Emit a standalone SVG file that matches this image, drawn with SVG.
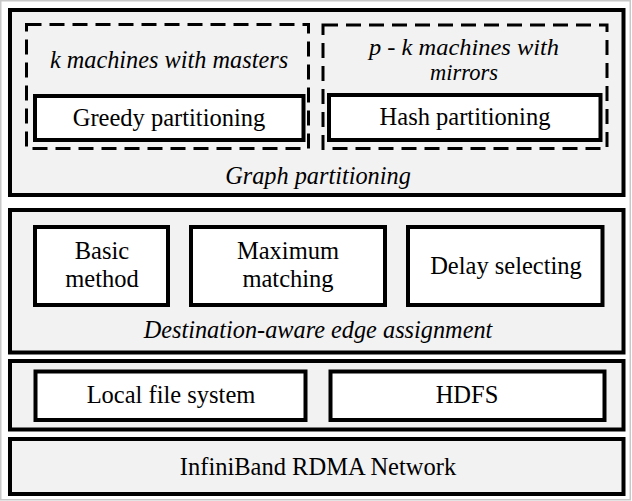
<svg xmlns="http://www.w3.org/2000/svg" width="632" height="501" viewBox="0 0 632 501">
<style>
.layer{fill:#f2f2f2;stroke:#000;stroke-width:4}
.box{fill:#fff;stroke:#000;stroke-width:4}
.dash{fill:none;stroke:#000;stroke-width:3;stroke-dasharray:15 8}
text{font-size:24.5px;fill:#000;text-anchor:middle}
.it{font-style:italic;font-size:24.3px}
.it2{font-style:italic;font-size:22.5px}
</style>
<rect x="0" y="0" width="632" height="501" fill="#fff"/>
<rect x="0.75" y="0.75" width="629.5" height="499" fill="none" stroke="#c8c8c8" stroke-width="1.5"/>
<g font-family="Liberation Serif">
<g id="graph-partitioning">
<rect class="layer" x="10" y="10" width="613.5" height="185"/>
<text class="it" x="318" y="184">Graph partitioning</text>
</g>
<g id="masters-group">
<rect class="dash" x="26.5" y="24.5" width="282" height="124"/>
<text class="it" x="169" y="68">k machines with masters</text>
</g>
<g id="greedy">
<rect class="box" x="35" y="96" width="268.5" height="44"/>
<text x="169" y="126">Greedy partitioning</text>
</g>
<g id="mirrors-group">
<rect class="dash" x="323" y="25" width="284" height="123.5"/>
<text class="it2" x="464" y="55" textLength="190" lengthAdjust="spacingAndGlyphs">p - k machines with</text>
<text class="it2" x="464" y="80">mirrors</text>
</g>
<g id="hash">
<rect class="box" x="329" y="95" width="271.5" height="45"/>
<text x="465" y="125">Hash partitioning</text>
</g>
<g id="edge-assignment">
<rect class="layer" x="10" y="210" width="613.5" height="142.5"/>
<text class="it" x="318" y="338">Destination-aware edge assignment</text>
</g>
<g id="basic">
<rect class="box" x="35" y="227" width="133" height="78"/>
<text x="102" y="259">Basic</text>
<text x="102" y="287">method</text>
</g>
<g id="maximum">
<rect class="box" x="191" y="227" width="194" height="78"/>
<text x="288" y="259">Maximum</text>
<text x="288" y="287">matching</text>
</g>
<g id="delay">
<rect class="box" x="408" y="227" width="194.5" height="78"/>
<text x="506" y="274">Delay selecting</text>
</g>
<g id="storage">
<rect class="layer" x="10" y="361" width="613.5" height="68.5"/>
</g>
<g id="local-fs">
<rect class="box" x="35.5" y="371.5" width="270" height="48.5"/>
<text x="171" y="403">Local file system</text>
</g>
<g id="hdfs">
<rect class="box" x="330.5" y="371.5" width="274" height="48.5"/>
<text x="467" y="403">HDFS</text>
</g>
<g id="network">
<rect class="layer" x="10" y="439" width="613.5" height="55"/>
<text x="318" y="475">InfiniBand RDMA Network</text>
</g>
</g>
<g id="connectors"></g>
</svg>
